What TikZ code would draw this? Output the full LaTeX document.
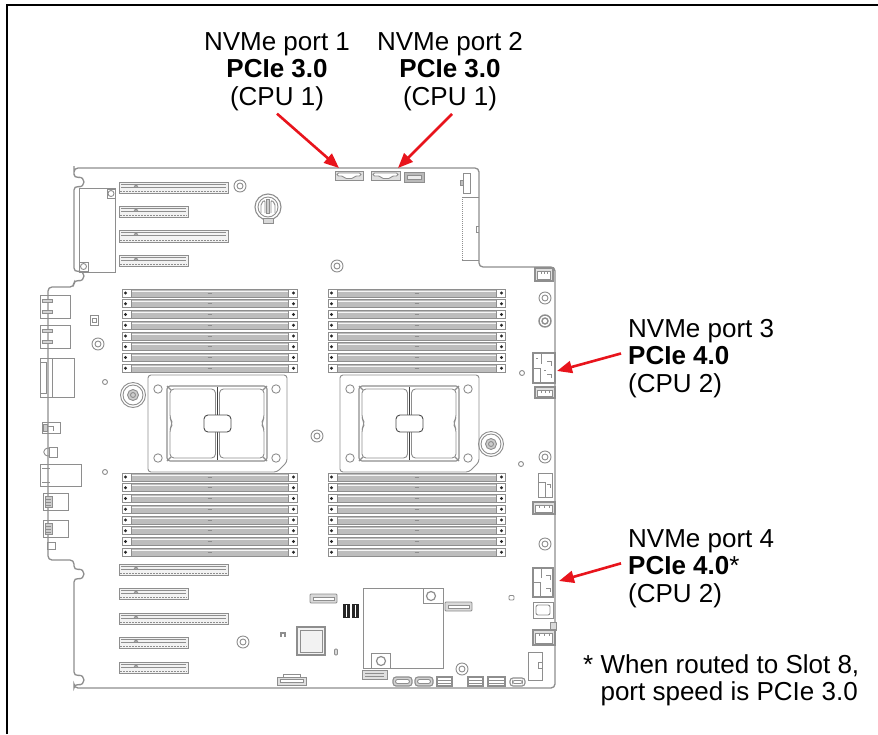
\documentclass[tikz,border=0pt]{standalone}
\usepackage{fontspec}
\setmainfont{Liberation Sans}
\usetikzlibrary{arrows.meta,calc}
\definecolor{bline}{HTML}{8E8E8E}
\definecolor{dfill}{HTML}{BDBDBD}
\definecolor{nred}{HTML}{E8141C}
\tikzset{
 bl/.style={draw=bline, line width=0.9pt},
 board/.style={draw=bline, line width=1.3pt, rounded corners=4pt},
 lab/.style={inner sep=0pt, font=\fontsize{26}{27.5}\selectfont, text=black},
 redarrow/.style={draw=nred, line width=2.6pt, -{Triangle[length=15pt,width=12pt]}},
 framestyle/.style={draw=black, line width=1.8pt},
}
\newcommand\mbdimm[3]{%
 \draw[bl, fill=dfill] (#1,#3-4) rectangle (#2,#3+4);
 \draw[white!85!dfill, line width=0.8pt] (#1+9,#3-2) -- (#2-9,#3-2);
 \draw[bl, fill=white] (#1,#3-4) rectangle (#1+9,#3+4);
 \draw[bl, fill=white] (#2-9,#3-4) rectangle (#2,#3+4);
 \fill[black!85] (#1+3.5,#3) circle (1.7);
 \fill[black!85] (#2-3.5,#3) circle (1.7);
 \draw[bline, line width=0.6pt] ({(#1+#2)/2-2},#3) -- ({(#1+#2)/2+2},#3);
}
\newcommand\mbslot[4]{%
 \draw[bl, fill=gray!10] (#1,#3) rectangle (#2,#4);
 \draw[bl] (#1+2,#3+2.5) -- (#2-2,#3+2.5);
 \draw[bl] (#1+2,#3+5) -- (#2-2,#3+5);
 \draw[bline, line width=1.4pt, dash pattern=on 1.5pt off 1.5pt] (#1+1,#4-1.5) -- (#2-1,#4-1.5);
 \draw[bl] (#1+15,#3+2.5) -- (#1+19,#3+5) (#1+15,#3+5) -- (#1+19,#3+2.5);
}
\newcommand\mbstand[2]{\draw[bl] (#1,#2) circle (6); \draw[bl] (#1,#2) circle (3);}
\newcommand\mbscrew[2]{\draw[bl] (#1,#2) circle (12.5); \draw[bl] (#1,#2) circle (10);
 \draw[bl, fill=gray!40] (#1,#2) circle (5.5); \draw[bl] (#1,#2) circle (2.5);}
\newcommand\mbdot[2]{\draw[bl] (#1,#2) circle (2.5);}
\newcommand\mbfan[4]{%
 \draw[bl, line width=1.1pt, fill=gray!25] (#1,#2) rectangle (#3,#4);
 \draw[bl, fill=white] (#1+2.5,#2+3) rectangle (#3-2.5,#4-2);
 \draw[bl] (#1+6,#2+3) -- (#1+6,#2+5.5) (#3-6,#2+3) -- (#3-6,#2+5.5) ({(#1+#3)/2},#2+3) -- ({(#1+#3)/2},#2+5.5);
}
\newcommand\mbcpu[1]{%
 \begin{scope}[xshift=#1pt]
 \draw[bl, rounded corners=3pt] (0,375) -- (139,375) -- (139,462) -- (129,472) -- (0,472) -- cycle;
 \foreach \hx/\hy in {10/389,128/389,10/458,128/458} {\draw[bl] (\hx,\hy) circle (4.2);}
 \draw[bl, line width=1.1pt, rounded corners=3pt] (19,386) rectangle (119,461);
 \draw[bl, rounded corners=4pt] (22,389) -- (67.5,389) -- (67.5,458) -- (22,458) -- (22,428) -- (25,423.5) -- (22,419) -- cycle;
 \draw[bl, rounded corners=4pt] (71.5,389) -- (116,389) -- (116,419) -- (113,423.5) -- (116,428) -- (116,458) -- (71.5,458) -- cycle;
 \draw[black!75, line width=1.5pt] (69.5,387) -- (69.5,460);
 \draw[black!70, line width=0.9pt, fill=white, rounded corners=4pt] (56,415) rectangle (83,432);
 \draw[bl, line width=1.2pt] (19,386) -- (23,390) (119,386) -- (115,390) (19,461) -- (23,457) (119,461) -- (115,457);
 \end{scope}
}
\begin{document}
\begin{tikzpicture}[x=1pt,y=-1pt]
\useasboundingbox (0,0) rectangle (878,734);
\fill[white] (0,0) rectangle (878,734);
% frame
\draw[framestyle] (7,734) -- (7,5) -- (878,5);

% board outline
\draw[board] (74,170) -- (74,178) .. controls (86,176) and (86,188) .. (74,186)
  -- (74,272) .. controls (86,270) and (86,282) .. (74,280)
  -- (74,287) -- (48,287) -- (48,560) -- (74,560)
  -- (74,570) .. controls (86,568) and (86,580) .. (74,578)
  -- (74,676) .. controls (86,674) and (86,686) .. (74,684)
  -- (74,688) -- (555,688) -- (555,267) -- (479,267) -- (479,168) -- (74,168) -- cycle;

% top-left bracket area
\draw[bl] (79,188) rectangle (115,272);
\draw[bl] (107,189) rectangle (115,198); \draw[bl] (111,193.5) circle (3);
\draw[bl] (79,262) rectangle (88,271); \draw[bl] (83.5,266.5) circle (3);

% PCIe slots
\mbslot{119}{228}{182}{193}
\mbslot{119}{188}{206}{217}
\mbslot{119}{228}{230}{242}
\mbslot{119}{188}{255}{266}
\mbslot{119}{228}{564}{575}
\mbslot{119}{188}{588}{599}
\mbslot{119}{228}{613}{624}
\mbslot{119}{188}{637}{648}
\mbslot{119}{188}{662}{673}

% battery
\draw[bl, line width=1.1pt] (268,207) circle (13);
\draw[bl] (268,207) circle (10);
\draw[bl, rounded corners=2pt] (261,213) -- (261,203) -- (265,200) -- (265,213);
\draw[bl, rounded corners=2pt] (271,213) -- (271,200) -- (275,203) -- (275,213);
\draw[bl, fill=gray!40] (266.5,199) rectangle (269.5,213);
\draw[bl, fill=gray!30] (263,218) rectangle (273,223);

% standoffs
\mbstand{240}{186}
\mbstand{337}{266}
\mbstand{545}{298}
\mbstand{98}{344}
\mbstand{317}{436}
\mbstand{243}{642}
\mbstand{545}{457}
\mbstand{545}{544}
\mbstand{462}{669}
\draw[bl, line width=1.4pt] (545,321) circle (6); \draw[bl, line width=1.4pt] (545,321) circle (3);
\mbscrew{133}{395}
\mbscrew{491}{444}
\mbdot{105}{382}
\mbdot{105}{472}
\mbdot{522}{373}
\mbdot{521}{464}

% DIMMs
\foreach \i in {0,...,7} {
  \pgfmathsetmacro\yu{293+10.75*\i}
  \pgfmathsetmacro\yl{477+10.75*\i}
  \mbdimm{122}{297}{\yu}
  \mbdimm{328}{505}{\yu}
  \mbdimm{122}{297}{\yl}
  \mbdimm{328}{505}{\yl}
}

% CPUs
\mbcpu{148}
\mbcpu{340}

% top connectors
\draw[bl, fill=gray!25] (335,171) rectangle (363,180);
\draw[bl, fill=white, rounded corners=1.5pt] (337,173) -- (361,173) -- (361,176) -- (355,176) -- (353,178.5) -- (345,178.5) -- (343,176) -- (337,176) -- cycle;
\draw[bl, fill=gray!25] (371,171) rectangle (400,180);
\draw[bl, fill=white, rounded corners=1.5pt] (373,173) -- (398,173) -- (398,176) -- (392,176) -- (390,178.5) -- (382,178.5) -- (380,176) -- (373,176) -- cycle;
\draw[bl, fill=gray!55] (404,172) rectangle (424,182);
\draw[bl, fill=gray!15] (407,175) rectangle (421,179.5);
\draw[bl] (463,173) rectangle (470,193);
\draw[bl, fill=gray!50] (460.5,180) rectangle (463,185);
\draw[bl] (479,197) -- (462,197);
\draw[bl, dash pattern=on 1pt off 1pt] (462,197) -- (462,260);
\draw[bl] (462,260) -- (479,260);
\draw[bl] (479,226) -- (476,226) -- (476,232) -- (479,232);
\coordinate (p1) at (339,168);
\coordinate (p2) at (398,168);

% right connectors
\mbfan{535}{268}{553}{281}
\draw[bl, line width=1.1pt] (533,353) rectangle (555,383);
\draw[bl] (541,353) -- (541,364) (533,368) -- (540,368) -- (540,383) (547,361) -- (551,361) -- (551,366) (547,374) -- (551,374) -- (551,378) (536,358) -- (538,358) (544,370) -- (546,370);
\coordinate (p3) at (557,371);
\mbfan{535}{387}{555}{398}
\draw[bl] (538,473) rectangle (552,497);
\draw[bl] (538,482) -- (545,482) -- (545,497) (547,484) -- (550,484) -- (550,488);
\mbfan{533}{502}{555}{514}
\draw[bl, line width=1.1pt] (533,568) rectangle (553,597);
\draw[bl] (541,568) -- (541,578) (533,582) -- (540,582) -- (540,597) (546,575) -- (550,575) -- (550,580) (546,588) -- (550,588) -- (550,592);
\coordinate (p4) at (559,581);
\draw[bl] (533,602) rectangle (553,618);
\draw[bl, rounded corners=2pt] (536,605) rectangle (550,615);
\draw[bl, fill=gray!30] (550,622) rectangle (556,630);
\mbfan{533}{630}{555}{645}
\draw[bl] (528,652) rectangle (542,680);
\draw[bl] (538,662) rectangle (542,668);
\draw[bl, rounded corners=1pt] (509,595.5) rectangle (514,600);

% bottom area
\draw[bl] (363,588) rectangle (443,668);
\draw[bl] (423,588) rectangle (443,603); \draw[bl, line width=1.2pt] (431,596) circle (4.5);
\draw[bl] (371,653) rectangle (390,668); \draw[bl, line width=1.2pt] (381,661) circle (4.5);
\draw[bl, fill=gray!30, rounded corners=1pt] (310,594) rectangle (337,603);
\draw[bl, fill=white] (313,597) rectangle (334,600);
\fill[black!85] (343,604) rectangle (350,618);
\fill[black!85] (352,604) rectangle (359,618);
\draw[white, line width=0.6pt] (346.5,605) -- (346.5,617) (355.5,605) -- (355.5,617);
\draw[bl, fill=gray!30, rounded corners=1pt] (445,602) rectangle (472,611);
\draw[bl, fill=white] (448,605) rectangle (469,608);
\draw[bl, line width=1.1pt, fill=gray!10] (297,627) rectangle (325,655);
\draw[bl] (300,630) rectangle (322,652);
\draw[bl, line width=1.2pt] (281,637) -- (281,633) -- (285,633) -- (285,637);
\draw[bl, fill=gray!30, rounded corners=1pt] (334.5,649) rectangle (337.5,655);
\draw[bl, fill=gray!25] (277,677) rectangle (306,685);
\draw[bl] (283,677) -- (283,674) -- (300,674) -- (300,677);
\draw[bl, fill=white] (280,679.5) rectangle (303,682.5);
\draw[bl, fill=gray!25] (362,670) rectangle (387,679);
\draw[bl] (365,673) -- (384,673) (365,676) -- (384,676);
\foreach \xa/\xb in {393/412,415/433} {
  \draw[bl, line width=1.1pt, fill=gray!35, rounded corners=3pt] (\xa,677) rectangle (\xb,686);
  \draw[bl, fill=white, rounded corners=2pt] (\xa+2.5,679.5) rectangle (\xb-2.5,683.5);
}
\foreach \xa/\xb in {437/452,468/483,488/505} {
  \draw[bl, line width=1.1pt] (\xa,677) rectangle (\xb,686);
  \draw[bl] (\xa,680) -- (\xb,680) (\xa,683) -- (\xb,683);
}
\draw[bl, line width=1.1pt, rounded corners=3pt] (510,678) rectangle (525,686);
\draw[bl, rounded corners=2pt] (512.5,680.5) rectangle (522.5,683.5);

% left IO
\draw[bl] (90,315) rectangle (98,325);
\draw[bl] (92,318) rectangle (96,322);
\draw[bl] (40,295) rectangle (70,318);
\draw[bl, fill=gray!35] (42,299) rectangle (52,302);
\draw[bl, fill=gray!35] (42,310) rectangle (52,313);
\draw[bl] (40,325) rectangle (70,348);
\draw[bl, fill=gray!35] (42,329) rectangle (52,332);
\draw[bl, fill=gray!35] (42,340) rectangle (52,343);
\draw[bl] (40,358) rectangle (74,397);
\draw[bl] (52,358) -- (52,397) (40,362) -- (46,362) -- (46,393) -- (40,393);
\draw[bl] (42,422) rectangle (60,433);
\draw[bl, fill=gray!40] (43,424) rectangle (47,431);
\draw[bl] (47,426) -- (53,426) -- (53,431);
\draw[bl] (49,447) rectangle (57,457);
\draw[bl] (49,448) .. controls (42,448) and (42,456) .. (49,456);
\draw[bl] (40,464) rectangle (81,486);
\draw[bl] (42,468) -- (50,468) (42,482) -- (50,482);
\draw[bl] (43,493) rectangle (68,510);
\draw[bl, fill=gray!40] (45,496) rectangle (52,507);
\draw[bl] (46,499) -- (51,499) (46,502) -- (51,502) (46,505) -- (51,505);
\draw[bl] (43,520) rectangle (68,537);
\draw[bl, fill=gray!40] (45,523) rectangle (52,534);
\draw[bl] (46,526) -- (51,526) (46,529) -- (51,529) (46,532) -- (51,532);
\draw[bl] (47,542) rectangle (55,549);

% labels
\node[lab, anchor=north, align=center] (l1) at (277,32) {NVMe port 1\\\textbf{PCIe 3.0}\\(CPU 1)};
\node[lab, anchor=north, align=center] (l2) at (450,32) {NVMe port 2\\\textbf{PCIe 3.0}\\(CPU 1)};
\node[lab, anchor=north west, align=left] (l3) at (628,319) {NVMe port 3\\\textbf{PCIe 4.0}\\(CPU 2)};
\node[lab, anchor=north west, align=left] (l4) at (628,529) {NVMe port 4\\\textbf{PCIe 4.0}*\\(CPU 2)};
\node[lab, anchor=north west, align=left] (fn) at (583,654) {* When routed to Slot 8,\\\hphantom{* }port speed is PCIe 3.0};

% arrows
\draw[redarrow] ($(l1.south)+(0,3)$) -- (p1);
\draw[redarrow] ($(l2.south)+(2,3)$) -- (p2);
\draw[redarrow] ($(l3.west)+(-7,-5)$) -- (p3);
\draw[redarrow] ($(l4.west)+(-7,-5)$) -- (p4);
\end{tikzpicture}
\end{document}
